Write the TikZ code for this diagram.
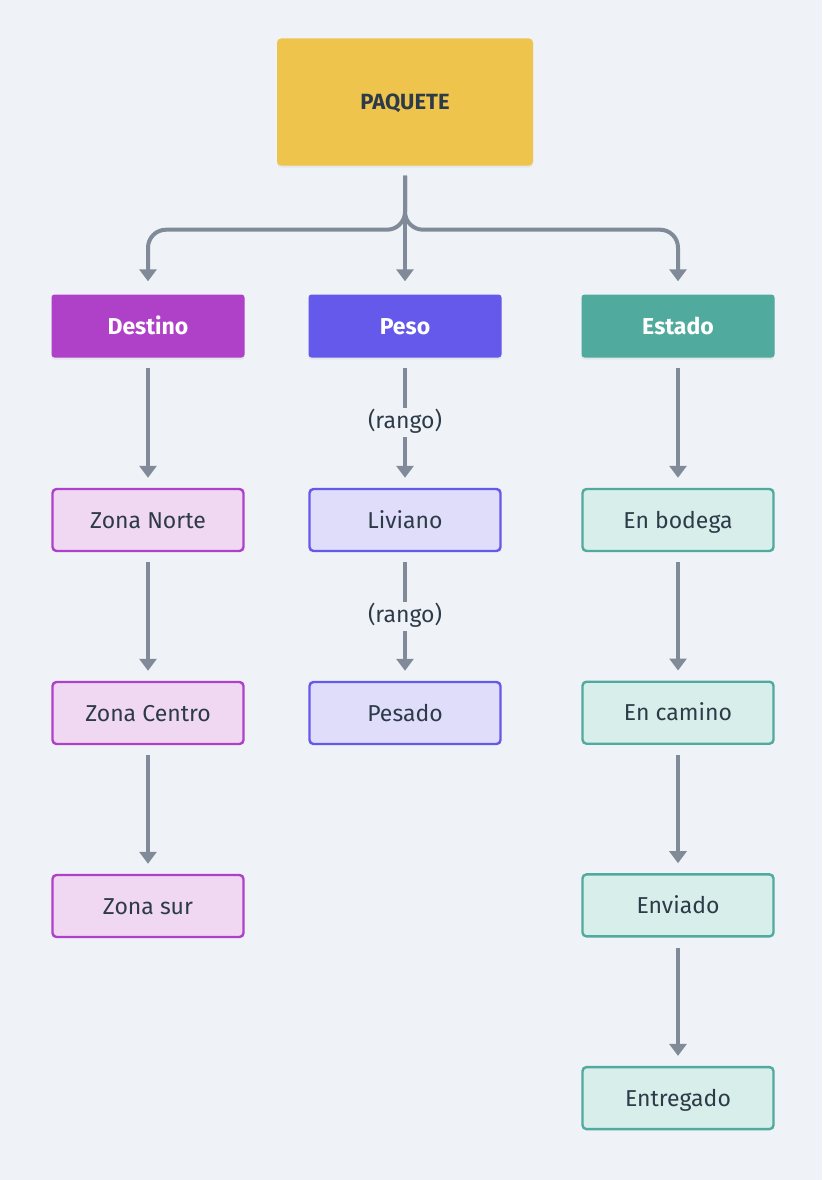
\documentclass[tikz,border=0pt]{standalone}
\usepackage{fontspec}
\setmainfont{Fira Sans}
\usetikzlibrary{arrows.meta,shadows}
\definecolor{bg}{HTML}{EFF3F7}
\definecolor{ink}{HTML}{2D3A48}
\definecolor{wire}{HTML}{808A98}
\definecolor{gold}{HTML}{EFC44C}
\definecolor{violeta}{HTML}{AF41C9}
\definecolor{violetal}{HTML}{F0D8F3}
\definecolor{indigo}{HTML}{6559EC}
\definecolor{indigol}{HTML}{DFDDFA}
\definecolor{verde}{HTML}{50AA9D}
\definecolor{verdel}{HTML}{D8EEEA}
\begin{document}
\begin{tikzpicture}[x=1pt,y=-1pt,
    every node/.style={font=\fontsize{23}{27}\selectfont,text=ink,text height=16pt,text depth=0pt},
    sombra/.style={drop shadow={shadow xshift=0pt,shadow yshift=-2pt,opacity=0.10}},
    raiz/.style={sombra,fill=gold,rounded corners=4pt,minimum width=256pt,minimum height=127pt,
        font=\bfseries\fontsize{22}{26}\selectfont},
    cabeza/.style={sombra,fill=#1,rounded corners=3pt,minimum width=193pt,minimum height=63pt,
        text=white,font=\bfseries\fontsize{23}{27}\selectfont},
    hoja/.style={draw=#1,fill=#1l,line width=2.4pt,rounded corners=4pt,minimum width=191pt,minimum height=62pt},
    flecha/.style={draw=wire,line width=4pt,-{Triangle[width=17pt,length=12pt]},shorten <=10pt,shorten >=10pt},
    rango/.style={fill=bg,inner sep=4pt,text depth=5pt}]
    \fill[bg] (0,0) rectangle (822,1180);
    \useasboundingbox (0,0) rectangle (822,1180);

    \node[raiz] (paq) at (405,102) {PAQUETE};
    \node[cabeza=violeta] (dest) at (148,326) {Destino};
    \node[cabeza=indigo] (peso) at (405,326) {Peso};
    \node[cabeza=verde] (est) at (678,326) {Estado};

    \foreach \n/\t [count=\i] in {d1/Zona Norte,d2/Zona Centro,d3/Zona sur}
        \node[hoja=violeta] (\n) at (148,520+193*\i-193) {\t};
    \foreach \n/\t [count=\i] in {p1/Liviano,p2/Pesado}
        \node[hoja=indigo] (\n) at (405,520+193*\i-193) {\t};
    \foreach \n/\t [count=\i] in {e1/En bodega,e2/En camino,e3/Enviado,e4/Entregado}
        \node[hoja=verde] (\n) at (678,520+192.7*\i-192.7) {\t};

    \draw[flecha,rounded corners=18pt,shorten >=13pt] (paq.south) -- ++(0,64) -| (dest.north);
    \draw[flecha,rounded corners=18pt,shorten >=13pt] (paq.south) -- ++(0,64) -| (est.north);
    \draw[flecha,shorten >=13pt] (paq.south) -- (peso.north);

    \foreach \a/\b in {dest/d1,d1/d2,d2/d3,est/e1,e1/e2,e2/e3,e3/e4}
        \draw[flecha] (\a) -- (\b);
    \draw[flecha] (peso) -- node[rango] {(rango)} (p1);
    \draw[flecha] (p1) -- node[rango] {(rango)} (p2);
\end{tikzpicture}
\end{document}
